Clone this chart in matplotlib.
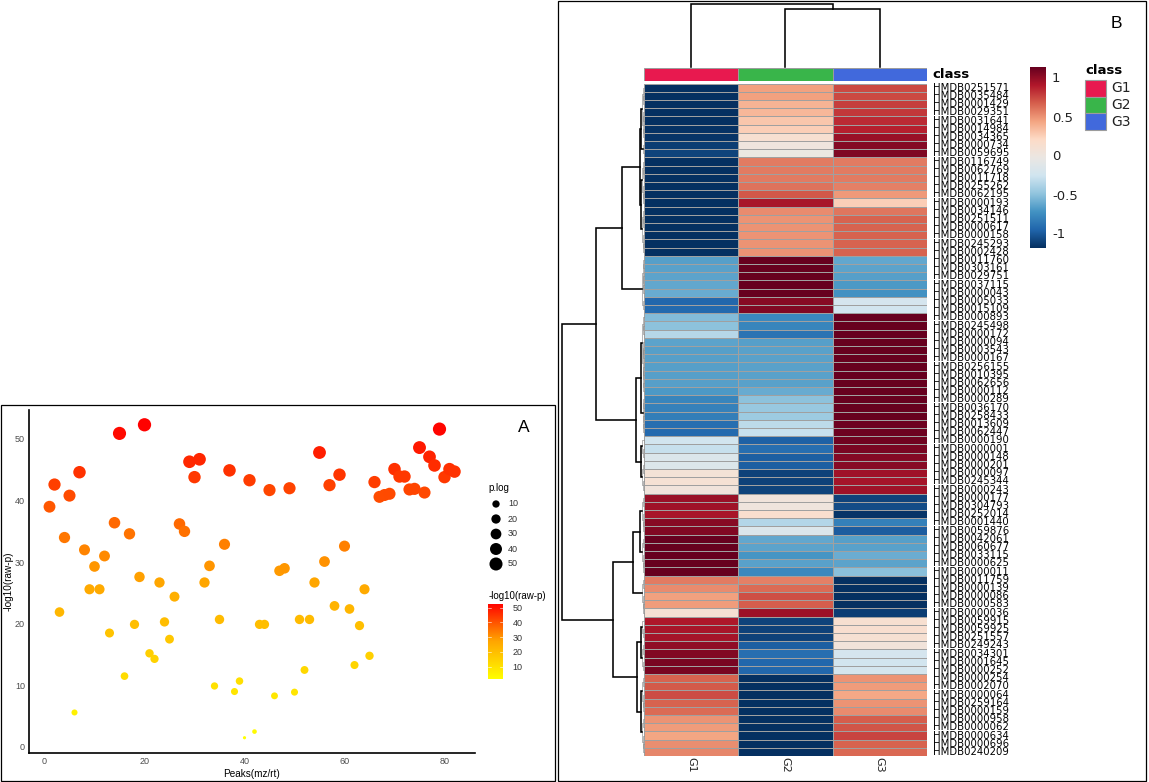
import numpy as np
import matplotlib
matplotlib.use('Agg')
import matplotlib.pyplot as plt
from matplotlib.colors import LinearSegmentedColormap
from matplotlib.patches import Rectangle

W, H = 1149, 782

# panel A: one -log10(p) per peak, peak number is the position in the list
peak_logp = [39.0, 42.6, 21.9, 34.0, 40.8, 5.6, 44.6, 32.0, 25.6, 29.3,
             25.6, 31.0, 18.5, 36.4, 50.9, 11.5, 34.6, 19.9, 27.6, 52.3,
             15.2, 14.3, 26.7, 20.3, 17.5, 24.4, 36.2, 35.0, 46.3, 43.8,
             46.7, 26.7, 29.4, 9.9, 20.7, 32.9, 44.9, 9.0, 10.7, 1.5,
             43.3, 2.5, 19.9, 19.9, 41.7, 8.3, 28.6, 29.0, 42.0, 8.9,
             20.7, 12.5, 20.7, 26.7, 47.8, 30.1, 42.5, 22.9, 44.2, 32.6,
             22.4, 13.3, 19.7, 25.6, 14.8, 43.0, 40.6, 40.9, 41.1, 45.1,
             43.9, 43.9, 41.8, 41.9, 48.6, 41.3, 47.1, 45.7, 51.6, 43.8,
             45.1, 44.7]
x_ticks = [0, 20, 40, 60, 80]
y_ticks = [0, 10, 20, 30, 40, 50]
size_breaks = [10, 20, 30, 40, 50]
color_breaks = [10, 20, 30, 40, 50]

# panel B: scaled abundance per metabolite
row_ids = ['0251571', '0035484', '0001429', '0029351', '0031641', '0014984', '0034365',
           '0000734', '0059695', '0116749', '0062769', '0011718', '0255262', '0062195',
           '0000193', '0034146', '0251511', '0000617', '0000158', '0245293', '0002428',
           '0011760', '0303161', '0029751', '0037115', '0000043', '0005033', '0015109',
           '0000893', '0245498', '0000172', '0000094', '0003543', '0000167', '0256155',
           '0010395', '0062656', '0000112', '0000289', '0036170', '0258433', '0013609',
           '0062447', '0000190', '0000001', '0000148', '0000201', '0000097', '0245344',
           '0000243', '0000177', '0304793', '0252014', '0001440', '0059876', '0042061',
           '0060677', '0033115', '0000625', '0000011', '0011759', '0000139', '0000086',
           '0000583', '0000036', '0059915', '0059925', '0251557', '0249243', '0034301',
           '0001645', '0000252', '0000254', '0002070', '0000064', '0259164', '0000159',
           '0000958', '0000062', '0000634', '0000696', '0240209']
g1_vals = [-1.15, -1.15, -1.15, -1.15, -1.15, -1.14, -1.13, -1.10, -1.07,
           -1.15, -1.15, -1.15, -1.15, -1.15, -1.15,
           -1.15, -1.15, -1.15, -1.15, -1.15, -1.15,
           -0.64, -0.63, -0.62, -0.60, -0.58, -0.92, -0.90,
           -0.50, -0.47, -0.33, -0.62, -0.64, -0.64, -0.64, -0.64, -0.64,
           -0.66, -0.76, -0.78, -0.80, -0.88, -0.90,
           -0.22, -0.27, -0.14, -0.13, 0.10, 0.12, 0.07,
           1.00, 0.98, 0.95, 1.05, 1.07, 1.15, 1.15, 1.15, 1.15, 1.15,
           0.60, 0.55, 0.47, 0.49, 0.13,
           0.93, 0.95, 0.96, 1.02, 1.07, 1.10, 1.10,
           0.68, 0.71, 0.75, 0.68, 0.65, 0.52, 0.49, 0.46, 0.54, 0.56]
g2_vals = [0.47, 0.47, 0.40, 0.38, 0.32, 0.28, 0.15, 0.05, 0.00,
           0.60, 0.60, 0.60, 0.63, 0.72, 0.95,
           0.55, 0.52, 0.52, 0.52, 0.52, 0.52,
           1.15, 1.15, 1.15, 1.15, 1.15, 1.05, 1.07,
           -0.74, -0.76, -0.85, -0.64, -0.63, -0.63, -0.63, -0.63, -0.63,
           -0.58, -0.47, -0.44, -0.42, -0.30, -0.27,
           -0.94, -0.88, -0.95, -0.95, -1.08, -1.08, -1.07,
           0.07, 0.05, 0.18, -0.34, -0.14, -0.60, -0.62, -0.68, -0.63, -0.74,
           0.58, 0.65, 0.74, 0.70, 0.99,
           -1.07, -1.08, -1.08, -0.95, -0.88, -0.92, -0.92,
           -1.15, -1.15, -1.15, -1.15, -1.15, -1.15, -1.15, -1.15, -1.15, -1.15]
g3_vals = [0.76, 0.76, 0.80, 0.82, 0.86, 0.90, 1.00, 1.06, 1.08,
           0.60, 0.60, 0.60, 0.58, 0.50, 0.28,
           0.62, 0.68, 0.68, 0.68, 0.68, 0.68,
           -0.60, -0.62, -0.64, -0.66, -0.70, -0.19, -0.22,
           1.15, 1.15, 1.15, 1.15, 1.15, 1.15, 1.15, 1.15, 1.15,
           1.15, 1.15, 1.15, 1.15, 1.13, 1.13,
           1.12, 1.10, 1.06, 1.05, 0.98, 0.96, 0.98,
           -1.07, -1.03, -1.13, -0.79, -0.96, -0.64, -0.63, -0.57, -0.62, -0.48,
           -1.15, -1.15, -1.15, -1.15, -1.10,
           0.16, 0.17, 0.14, 0.08, -0.19, -0.22, -0.20,
           0.52, 0.49, 0.45, 0.52, 0.55, 0.70, 0.73, 0.78, 0.68, 0.66]
class_names = ['G1', 'G2', 'G3']
class_colors = ['#E8194F', '#39B54A', '#4169DC']
heat_breaks = [-1, -0.5, 0, 0.5, 1]
heat_break_labels = ['-1', '-0.5', '0', '0.5', '1']


def axes_px(x0, y0, x1, y1, **kw):
    # add_axes with pixel box, y measured from the top
    return fig.add_axes([x0 / W, 1 - y1 / H, (x1 - x0) / W, (y1 - y0) / H], **kw)


def dot_size(v):
    # ggplot-like area scale, returned in points^2
    d = 3.2 + 10 * np.sqrt((np.asarray(v, dtype=float) - 1.5) / 50)
    return (d * 0.72) ** 2


def span(a, b, h):
    # balanced sub tree over rows a..b-1
    if b - a == 1:
        return a
    mid = (a + b) // 2
    return [h, span(a, mid, h * 0.6), span(mid, b, h * 0.6)]


def draw_tree(node, put):
    if not isinstance(node, list):
        return node + 0.5, 0
    p1, h1 = draw_tree(node[1], put)
    p2, h2 = draw_tree(node[2], put)
    put(node[0], [h1, node[0], node[0], h2], [p1, p1, p2, p2])
    return (p1 + p2) / 2, node[0]


def put_row(h, a, b):
    # low merges stay faint next to the cells
    if h < 2.2:
        rd.plot(a, b, color='#8c8c8c', lw=0.45, clip_on=False)
    else:
        rd.plot(a, b, color='black', lw=1.15, solid_joinstyle='miter', clip_on=False)


fig = plt.figure(figsize=(W / 100, H / 100), dpi=100)
plt.rcParams['font.family'] = ['Liberation Sans', 'DejaVu Sans']

page = fig.add_axes([0, 0, 1, 1])
page.set_xlim(0, W)
page.set_ylim(H, 0)
page.axis('off')
page.add_patch(Rectangle((1, 404.5), 553.5, 376, fill=False, ec='black', lw=0.9))
page.add_patch(Rectangle((558, 0.5), 587.5, 780.5, fill=False, ec='black', lw=0.9))

# ---------- A: scatter ----------
fire = LinearSegmentedColormap.from_list('fire', ['#FFFF00', '#FFA500', '#FF0000'])
ax = axes_px(29, 410, 475, 752.7)
peaks = np.arange(1, len(peak_logp) + 1)
ax.scatter(peaks, peak_logp, s=dot_size(peak_logp), c=peak_logp, cmap=fire,
           vmin=1.5, vmax=52.5, linewidths=0, zorder=3)
ax.set_xlim(-3.1, 86.1)
ax.set_ylim(-0.93, 54.7)
ax.set_xticks(x_ticks)
ax.set_yticks(y_ticks)
ax.tick_params(length=0, labelsize=6.5, labelcolor='#4d4d4d', pad=3)
for s in ['top', 'right']:
    ax.spines[s].set_visible(False)
for s in ['left', 'bottom']:
    ax.spines[s].set_linewidth(1.2)
ax.set_xlabel('Peaks(mz/rt)', fontsize=7.2, labelpad=2)
ax.set_ylabel('-log10(raw-p)', fontsize=7.2, labelpad=1)
ax.patch.set_alpha(0)

page.text(524, 428, 'A', fontsize=12.5, ha='center', va='center')

# size legend
page.text(488.5, 488, 'p.log', fontsize=7, ha='left', va='center')
size_y = 504 + 15 * np.arange(len(size_breaks))
page.scatter([496] * len(size_breaks), size_y, s=dot_size(size_breaks), c='black', linewidths=0)
for v, yy in zip(size_breaks, size_y):
    page.text(508, yy, str(v), fontsize=6.5, color='#333333', va='center')

# colour legend
page.text(488.5, 596, '-log10(raw-p)', fontsize=7, ha='left', va='center')
cax = axes_px(488.3, 604, 503, 679.3)
cax.imshow(np.linspace(1, 0, 256)[:, None], cmap=fire, aspect='auto',
           extent=[0, 1, 1.5, 52.5], vmin=0, vmax=1)
cax.set_xticks([])
cax.yaxis.tick_right()
cax.set_yticks(color_breaks)
cax.tick_params(axis='y', length=0, labelsize=6.5, labelcolor='#333333', pad=7)
for s in cax.spines.values():
    s.set_visible(False)
for v in color_breaks:
    cax.plot([0, 0.2], [v, v], color='white', lw=0.4)
    cax.plot([0.8, 1], [v, v], color='white', lw=0.4)
cax.set_xlim(0, 1)
cax.set_ylim(1.5, 52.5)

# ---------- B: heatmap ----------
# RdBu ramp with a slightly greyer middle
heat_cmap = LinearSegmentedColormap.from_list('heat', [
    '#053061', '#2166AC', '#4393C3', '#92C5DE', '#D1E5F0', '#EBE7E3',
    '#FDDBC7', '#F4A582', '#D6604D', '#B2182B', '#67001F'])
values = np.column_stack([g1_vals, g2_vals, g3_vals])
n_rows = len(row_ids)
hx = axes_px(643.7, 83.7, 927, 756)
hx.pcolormesh(values, cmap=heat_cmap, vmin=-1.155, vmax=1.155,
              edgecolors='#a0a0a0', linewidth=0.5)
hx.set_xlim(0, 3)
hx.set_ylim(n_rows, 0)
hx.axis('off')

# class strip
bar = axes_px(643.7, 68, 927, 80.5)
bar.bar([0.5, 1.5, 2.5], [1, 1, 1], width=1, color=class_colors, edgecolor='#9c9c9c', linewidth=0.7)
bar.set_xlim(0, 3)
bar.set_ylim(0, 1)
bar.axis('off')
page.text(932.5, 74.5, 'class', fontsize=9.5, fontweight='bold', family='DejaVu Sans',
          va='center')

# row labels, one per row
label_y = 83.7 + (np.arange(n_rows) + 0.5) * (756 - 83.7) / n_rows
for name, yy in zip(row_ids, label_y):
    page.text(933, yy, 'HMDB' + name, fontsize=7.3, family='DejaVu Sans', va='center')

for i, name in enumerate(class_names):
    page.text(691 + 94.4 * i, 765, name, fontsize=8, family='DejaVu Sans',
              rotation=270, ha='center', va='center', color='#222222')

# row dendrogram
row_tree = [82,
            [48,
             [22,
              [4, [2.5, span(0, 7, 1.6), span(7, 9, 1.0)],
               [2.5, span(9, 15, 1.6), span(15, 21, 1.6)]],
              [2, span(21, 26, 1.2), span(26, 28, 0.8)]],
             [8,
              [2.5, [1.8, span(28, 31, 1.0), span(31, 38, 1.0)], span(38, 43, 1.2)],
              span(43, 50, 2.5)]],
            [31,
             [11,
              [4, span(50, 55, 2.0), span(55, 60, 2.0)],
              span(60, 65, 1.5)],
             [7,
              span(65, 72, 2.5),
              [3, span(72, 77, 1.5), span(77, 82, 1.5)]]]]
rd = axes_px(561.7 - 1, 83.7, 643.7, 756)
rd.set_xlim(83, 0)
rd.set_ylim(n_rows, 0)
rd.axis('off')
draw_tree(row_tree, put_row)

# column dendrogram
col_tree = [63.5, 0, [58.5, 1, 2]]
cd = axes_px(643.7, 0, 927, 67)
cd.set_xlim(0, 3)
cd.set_ylim(0, 67)
cd.axis('off')
draw_tree(col_tree, lambda h, a, b: cd.plot(b, a, color='black', lw=1.15,
                                            solid_joinstyle='miter', clip_on=False))

# value colour bar
hc = axes_px(1030, 67, 1046, 248)
hc.imshow(np.linspace(1.155, -1.155, 256)[:, None], cmap=heat_cmap, aspect='auto',
          vmin=-1.155, vmax=1.155, extent=[0, 1, -1.165, 1.155])
hc.set_xticks([])
hc.set_yticks([])
for s in hc.spines.values():
    s.set_visible(False)
for v, lab in zip(heat_breaks, heat_break_labels):
    page.text(1052, 157 - 78 * v, lab, fontsize=9.5, family='DejaVu Sans', va='center',
              color='#222222')

page.text(1116.5, 24, 'B', fontsize=12.5, ha='center', va='center')

# class legend
page.text(1085, 71, 'class', fontsize=9.5, fontweight='bold', family='DejaVu Sans', va='center')
for i, (name, c) in enumerate(zip(class_names, class_colors)):
    page.add_patch(Rectangle((1085, 80 + 16.7 * i), 21, 16.7, fc=c, ec='#9c9c9c', lw=0.8))
    page.text(1111.5, 88.5 + 16.7 * i, name, fontsize=10, family='DejaVu Sans', va='center',
              color='#222222')

fig.savefig('out.png', dpi=100)
